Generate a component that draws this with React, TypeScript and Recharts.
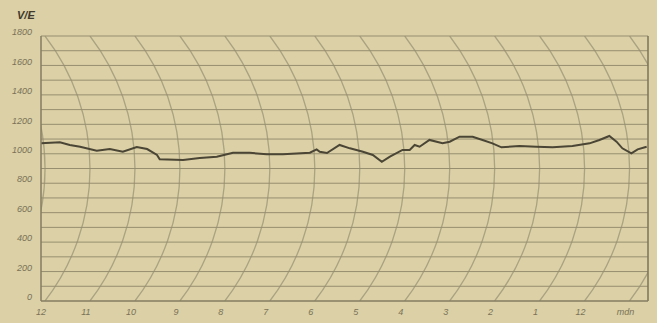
import { LineChart, Line, XAxis, YAxis, ReferenceLine, Customized } from "recharts";

// hour marks along the strip (read right-to-left on the original recorder paper)
const hourTicks = [0, 1, 2, 3, 4, 5, 6, 7, 8, 9, 10, 11, 12, 13];
const hourLabels = ["12", "11", "10", "9", "8", "7", "6", "5", "4", "3", "2", "1", "12", "mdn"];

const valueTicks = [0, 200, 400, 600, 800, 1000, 1200, 1400, 1600, 1800];
const minorLines = [
  100, 200, 300, 400, 500, 600, 700, 800, 900, 1000, 1100, 1200, 1300, 1400, 1500, 1600, 1700, 1800,
];

// recorded trace
const traceHours = [
  0, 0.42, 0.64, 0.87, 1.24, 1.53, 1.82, 2.13, 2.36, 2.58, 2.64, 3.16, 3.53, 3.91, 4.27, 4.64,
  5.02, 5.38, 5.98, 6.13, 6.2, 6.36, 6.64, 6.87, 7.16, 7.38, 7.58, 7.76, 8.04, 8.2, 8.31, 8.42,
  8.64, 8.93, 9.09, 9.31, 9.6, 9.82, 10.04, 10.24, 10.64, 11.02, 11.38, 11.82, 12.2, 12.42,
  12.64, 12.8, 12.93, 13.13, 13.27, 13.47,
];
const traceValues = [
  1071, 1078, 1060, 1048, 1021, 1032, 1014, 1046, 1032, 992, 962, 958, 971, 980, 1007, 1007,
  996, 996, 1007, 1030, 1014, 1005, 1060, 1037, 1014, 992, 946, 980, 1026, 1026, 1060, 1048,
  1094, 1071, 1082, 1116, 1116, 1094, 1071, 1044, 1053, 1048, 1044, 1053, 1071, 1094,
  1121, 1082, 1037, 1003, 1030, 1048,
];

const data = traceHours.map((h, i) => ({ h, v: traceValues[i] }));

const W = 657;
const H = 323;
const PLOT = { left: 41, top: 36, right: 648, bottom: 301 };
const X_MAX = 13.5;

const paper = "#dbd0a6";
const gridColor = "#978e70";
const inkColor = "#7a7257";

// time arcs of the recorder pen arm
function TimeArcs() {
  const pw = PLOT.right - PLOT.left;
  const ph = PLOT.bottom - PLOT.top;
  const sag = 45;
  const half = ph / 2;
  const r = (half * half + sag * sag) / (2 * sag);
  const arcs = [-1, ...hourTicks];
  return (
    <g>
      <defs>
        <clipPath id="plotClip">
          <rect x={PLOT.left} y={PLOT.top} width={pw} height={ph} />
        </clipPath>
      </defs>
      <g clipPath="url(#plotClip)">
        {arcs.map((t) => {
          const x = PLOT.left + (t / X_MAX) * pw + 4;
          return (
            <path
              key={t}
              d={`M${x},${PLOT.top} A${r},${r} 0 0 1 ${x},${PLOT.bottom}`}
              fill="none"
              stroke="#aaa281"
              strokeWidth={1.3}
            />
          );
        })}
      </g>
    </g>
  );
}

const tickStyle = {
  fill: inkColor,
  fontSize: 9,
  fontStyle: "italic",
  fontFamily: "Liberation Sans, sans-serif",
};

export default function App() {
  return (
    <div style={{ position: "absolute", left: 0, top: 0, width: W, height: H, background: paper }}>
      <div
        style={{
          position: "absolute",
          left: 17,
          top: 9,
          fontSize: 11,
          fontWeight: "bold",
          fontStyle: "italic",
          color: "#3f3a2c",
          fontFamily: "Liberation Sans, sans-serif",
        }}
      >
        V/E
      </div>
      <LineChart
        width={W}
        height={H}
        data={data}
        margin={{ top: PLOT.top, right: W - PLOT.right, bottom: 2, left: 0 }}
      >
        <Customized component={<TimeArcs />} />
        {minorLines.map((v) => (
          <ReferenceLine key={v} y={v} stroke={gridColor} strokeWidth={1} />
        ))}
        <ReferenceLine x={X_MAX} stroke="#7d7558" strokeWidth={1.5} />
        <XAxis
          type="number"
          dataKey="h"
          domain={[0, X_MAX]}
          ticks={hourTicks}
          tickFormatter={(t) => hourLabels[t] ?? ""}
          tick={tickStyle}
          tickLine={false}
          axisLine={{ stroke: "#857d60", strokeWidth: 1.5 }}
          height={20}
          tickMargin={2}
          allowDataOverflow
        />
        <YAxis
          type="number"
          domain={[0, 1800]}
          ticks={valueTicks}
          tick={{ ...tickStyle, dy: -4 }}
          tickLine={false}
          axisLine={{ stroke: "#857d60", strokeWidth: 1.5 }}
          width={41}
          tickMargin={3}
        />
        <Line
          type="linear"
          dataKey="v"
          stroke="#4a4535"
          strokeWidth={2}
          dot={false}
          isAnimationActive={false}
        />
      </LineChart>
    </div>
  );
}
